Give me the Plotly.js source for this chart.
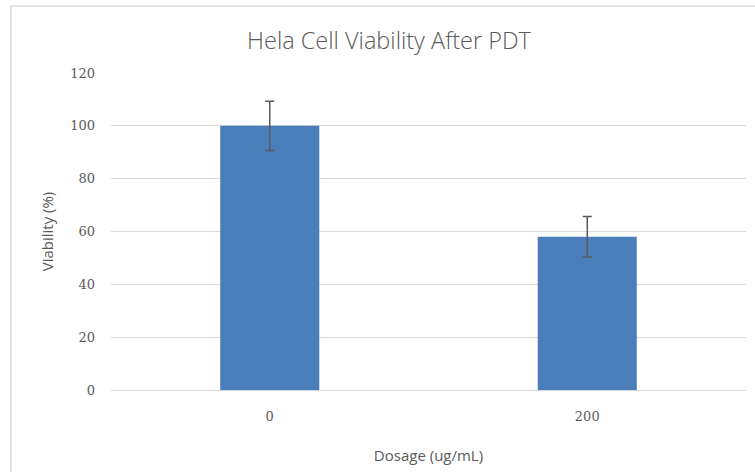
<!DOCTYPE html>
<html>
<head>
<meta charset="utf-8">
<script src="https://cdn.plot.ly/plotly-3.0.1.min.js"></script>
<style>html,body{margin:0;padding:0;background:#fff;}#chart{width:755px;height:472px;}</style>
</head>
<body>
<div id="chart"></div>
<script>
const categories = ['0', '200'];
const viability = [100, 58];
const errors = [9.3, 7.7];
const yTicks = [0, 20, 40, 60, 80, 100, 120];

const trace = {
  type: 'bar',
  x: categories,
  y: viability,
  marker: {color: '#4A7EBB'},
  error_y: {type: 'data', array: errors, visible: true, color: '#595959', thickness: 1.5, width: 4.5},
  hoverinfo: 'none'
};

const W = 755, H = 472, L = 111, R = 9, T = 73, B = 82;
const pw = W - L - R, ph = H - T - B;
const px = v => (v - L) / pw;
const py = v => (H - B - v) / ph;

const layout = {
  width: W, height: H,
  margin: {l: L, r: R, t: T, b: B, pad: 0},
  paper_bgcolor: '#ffffff', plot_bgcolor: '#ffffff',
  showlegend: false,
  bargap: 0.688,
  title: {
    text: 'Hela Cell Viability After PDT',
    font: {family: 'Open Sans, sans-serif', size: 23.5, weight: 300, color: '#595959'},
    xref: 'paper', x: px(389), xanchor: 'center',
    yref: 'container', y: 1 - 41 / H, yanchor: 'middle'
  },
  xaxis: {
    type: 'category',
    showgrid: false,
    showline: true, linecolor: '#d9d9d9', linewidth: 1,
    ticks: '',
    tickfont: {family: 'DejaVu Serif, serif', size: 13, color: '#595959'},
    ticklabelstandoff: 14,
    title: {text: 'Dosage (ug/mL)', font: {family: 'Open Sans, sans-serif', size: 15, color: '#595959'}, standoff: 27}
  },
  yaxis: {
    range: [0, 120],
    tickvals: yTicks,
    showgrid: true, gridcolor: '#d9d9d9', gridwidth: 1,
    zeroline: false, showline: false,
    ticks: '',
    tickfont: {family: 'DejaVu Serif, serif', size: 13, color: '#595959'},
    ticklabelstandoff: 15,
    title: {text: 'Viability (%)', font: {family: 'Open Sans, sans-serif', size: 15, color: '#595959'}, standoff: 12}
  },
  shapes: [{
    type: 'rect', xref: 'paper', yref: 'paper',
    x0: px(11), x1: px(900), y0: py(600), y1: py(6),
    line: {color: '#d9d9d9', width: 1.5}, fillcolor: 'rgba(0,0,0,0)', layer: 'below'
  }]
};

Plotly.newPlot('chart', [trace], layout, {displayModeBar: false, staticPlot: true});
</script>
</body>
</html>
